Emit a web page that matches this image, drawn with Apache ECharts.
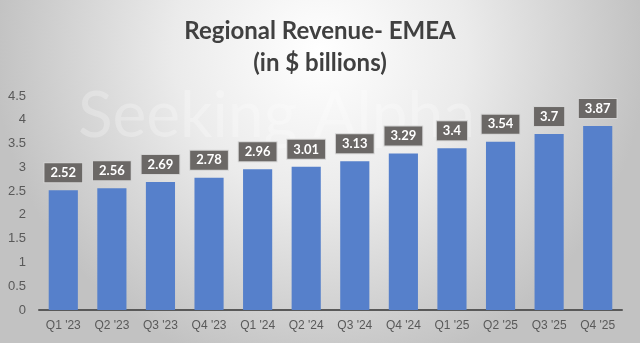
<!DOCTYPE html>
<html><head><meta charset="utf-8">
<script src="https://cdn.jsdelivr.net/npm/echarts@6/dist/echarts.min.js"></script>
<style>html,body{margin:0;padding:0;}#c{width:640px;height:343px;}</style>
</head><body><div id="c"></div>
<script>
const categories = ["Q1 '23","Q2 '23","Q3 '23","Q4 '23","Q1 '24","Q2 '24","Q3 '24","Q4 '24","Q1 '25","Q2 '25","Q3 '25","Q4 '25"];
const revenue = [2.52,2.56,2.69,2.78,2.96,3.01,3.13,3.29,3.4,3.54,3.7,3.87];
const yTicks = [0,0.5,1,1.5,2,2.5,3,3.5,4,4.5];
const titleText = "Regional Revenue- EMEA\n(in $ billions)";

const chart = echarts.init(document.getElementById('c'));
chart.setOption({
  backgroundColor: {
    type: 'radial', x: 0.5, y: 0.15, r: 0.95,
    colorStops: [{offset:0,color:'#ffffff'},{offset:0.45,color:'#ebebeb'},{offset:1,color:'#c2c2c2'}]
  },
  graphic: [{
    type:'text', left: 78, top: 84, silent:true, z:0,
    style:{text:'Seeking Alpha', fontSize:64, fontFamily:'Lato', fill:'rgba(255,255,255,0.25)'}
  }],
  title: {
    text: titleText, left: 'center', top: 10,
    textStyle: {fontFamily:'Lato', fontWeight:'bold', fontSize:24, lineHeight:32, color:'#404040'}
  },
  grid: {left: 39, right: 18, top: 96, bottom: 33},
  xAxis: {
    type:'category', data: categories,
    axisLine:{lineStyle:{color:'#595959', width:2}},
    axisTick:{show:false},
    axisLabel:{color:'#595959', fontSize:12, fontFamily:'Liberation Sans', margin:10}
  },
  yAxis: {
    type:'value', min: yTicks[0], max: yTicks[yTicks.length-1], interval: 0.5,
    splitLine:{show:false}, axisLine:{show:false}, axisTick:{show:false},
    axisLabel:{color:'#595959', fontSize:13, fontFamily:'Liberation Sans', margin:13}
  },
  series: [{
    type:'bar', data: revenue, barCategoryGap:'40%',
    itemStyle:{color:'#5680CB'},
    label:{
      show:true, position:'top', distance:8,
      color:'#ffffff', fontWeight:'bold', fontSize:13, fontFamily:'Lato',
      backgroundColor:'#6b6866', borderColor:'#d4d4d4', borderWidth:1,
      padding:[3,6,3,6]
    }
  }]
});
</script></body></html>
